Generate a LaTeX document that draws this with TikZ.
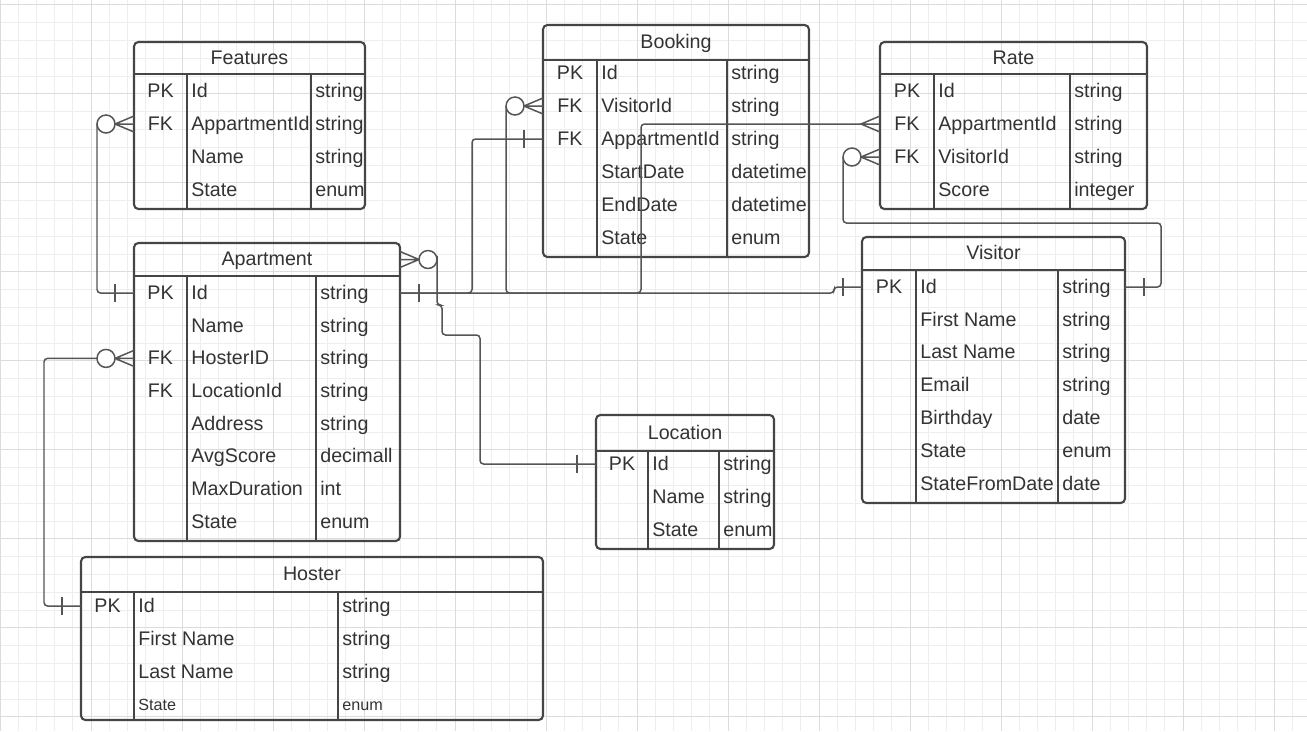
\documentclass[tikz,border=0pt]{standalone}
\usepackage{fontspec}
\setmainfont{Liberation Sans}
\definecolor{linegray}{HTML}{454545}
\definecolor{conngray}{HTML}{555555}
\definecolor{textgray}{HTML}{333333}
\definecolor{gridminor}{HTML}{EEEEEE}
\definecolor{gridmajor}{HTML}{DCDCDC}
\newcommand{\erfont}{\fontsize{11.2}{13}\selectfont}
\newcommand{\ersmall}{\fontsize{9.2}{11}\selectfont}
\tikzstyle{tablebox} = [draw=linegray, line width=1.2pt, rounded corners=2.5pt]
\tikzstyle{sepline} = [draw=linegray, line width=1.2pt]
\tikzstyle{entitytitle} = [inner sep=0pt, text height=0.716em, text depth=0pt]
\tikzstyle{keycell} = [inner sep=0pt, text height=0.716em, text depth=0pt]
\tikzstyle{fieldcell} = [keycell, anchor=west]
\tikzstyle{conn} = [draw=conngray, line width=0.85pt, rounded corners=2pt]
\tikzstyle{gridthin} = [draw=gridminor, line width=0.4pt]
\tikzstyle{gridthick} = [draw=gridmajor, line width=0.5pt]
\tikzset{
  pics/zeromany/.style={code={
    \draw[conn, sharp corners] (0,-8) -- (-19,0) -- (0,8) (0,0) -- (-19,0);
    \draw[conn, fill=white] (-28,0) circle[radius=0.18cm];
    \coordinate (-end) at (-37,0);
  }},
  pics/many/.style={code={
    \draw[conn, sharp corners] (0,-8) -- (-19,0) -- (0,8) (0,0) -- (-19,0);
    \coordinate (-end) at (-19,0);
  }},
  pics/one/.style={code={
    \draw[conn] (-19,-9) -- (-19,9);
  }}
}
% box, header line, column lines and title of one table
\newcommand{\erentity}[9]{%
  \draw[tablebox] (#2,#3) rectangle (#4,#5);
  \draw[sepline] (#2,#6) -- (#4,#6) (#7,#6) -- (#7,#5) (#8,#6) -- (#8,#5);
  \coordinate (#1-nw) at (#2,#3);
  \coordinate (#1-se) at (#4,#5);
  \node[entitytitle] (#1) at ({(#2+#4)/2},{(#3+#6)/2}) {#9};
}
% rows: key / field / type
\newcommand{\errows}[7]{%
  \foreach \k/\f/\t [count=\i] in {#7} {
    \node[keycell] (#1-k\i) at ({(#2+#3)/2},{#5+#6*(\i-1)}) {\k};
    \node[fieldcell] (#1-f\i) at ({#3+4},{#5+#6*(\i-1)}) {\f};
    \node[fieldcell] (#1-t\i) at ({#4+4},{#5+#6*(\i-1)}) {\t};
  }}
\begin{document}
\begin{tikzpicture}[x=0.02cm, y=-0.02cm, font=\erfont, text=textgray]
  \useasboundingbox (0,0) rectangle (1307,731);
  % grid
  \foreach \gx in {0,18.2,...,1307} \draw[gridthin] (\gx,0) -- (\gx,731);
  \foreach \gy in {4.8,22.6,...,731} \draw[gridthin] (0,\gy) -- (1307,\gy);
  \foreach \gx in {0,91,...,1307} \draw[gridthick] (\gx,0) -- (\gx,731);
  \foreach \gy in {4.8,93.8,...,731} \draw[gridthick] (0,\gy) -- (1307,\gy);

  % tables
  \erentity{feat}{134}{42}{365}{209}{74}{187}{311}{Features}
  \errows{feat}{134}{187}{311}{91}{33}{PK/Id/string, FK/AppartmentId/string, /Name/string, /State/enum}
  \erentity{book}{543}{25}{809}{257}{60}{597}{727}{Booking}
  \errows{book}{543}{597}{727}{73}{33}{PK/Id/string, FK/VisitorId/string, FK/AppartmentId/string, /StartDate/datetime, /EndDate/datetime, /State/enum}
  \erentity{rate}{880}{42}{1147}{209}{74}{934}{1070}{Rate}
  \errows{rate}{880}{934}{1070}{91}{33}{PK/Id/string, FK/AppartmentId/string, FK/VisitorId/string, /Score/integer}
  \erentity{apt}{134}{243}{400}{541}{276}{187}{316}{Apartment}
  \errows{apt}{134}{187}{316}{293}{32.7}{PK/Id/string, /Name/string, FK/HosterID/string, FK/LocationId/string, /Address/string, /AvgScore/decimall, /MaxDuration/int, /State/enum}
  \erentity{vis}{862}{237}{1125}{503}{270}{916}{1058}{Visitor}
  \errows{vis}{862}{916}{1058}{287}{32.8}{PK/Id/string, /First Name/string, /Last Name/string, /Email/string, /Birthday/date, /State/enum, /StateFromDate/date}
  \erentity{loc}{596}{415}{774}{549}{451}{648}{719}{Location}
  \errows{loc}{596}{648}{719}{464}{33}{PK/Id/string, /Name/string, /State/enum}
  \erentity{host}{81}{557}{543}{720}{592}{134}{338}{Hoster}
  \errows{host}{81}{134}{338}{606}{33}{PK/Id/string, /First Name/string, /Last Name/string}
  \node[fieldcell, font=\ersmall] (host-f4) at (138,704) {State};
  \node[fieldcell, font=\ersmall] (host-t4) at (342,704) {enum};

  % relation ends
  \pic (featc) at (feat-nw |- feat-k2) {zeromany};
  \pic at (apt-nw |- apt-k1) {one};
  \pic (aptc2) at (apt-nw |- apt-k3) {zeromany};
  \pic at (host-nw |- host-k1) {one};
  \pic[rotate=180] (aptc3) at (apt-se |- apt) {zeromany};
  \pic at (loc-nw |- loc-k1) {one};
  \pic at (book-nw |- book-k3) {one};
  \pic[rotate=180] at (apt-se |- apt-k1) {one};
  \pic (ratec1) at (rate-nw |- rate-k2) {many};
  \pic (bookc2) at (book-nw |- book-k2) {zeromany};
  \pic at (vis-nw |- vis-k1) {one};
  \pic (ratec2) at (rate-nw |- rate-k3) {zeromany};
  \pic[rotate=180] at (vis-se |- vis-k1) {one};

  % relations
  \draw[conn] (featc-end) |- (apt-nw |- apt-k1);
  \draw[conn] (aptc2-end) -- ++(-53,0) |- (host-nw |- host-k1);
  \draw[conn] (aptc3-end) -| (437,305) -| (442,335) -| (480,0 |- loc-k1) -- (loc-nw |- loc-k1);
  \draw[conn] (book-nw |- book-k3) -| (472,0 |- apt-k1) -- (apt-se |- apt-k1);
  \draw[conn] (ratec1-end) -| (641,0 |- apt-k1) -- (apt-se |- apt-k1);
  \draw[conn] (bookc2-end) |- (834,0 |- apt-k1) |- (vis-nw |- vis-k1);
  \draw[conn] (ratec2-end) |- (1161,223) |- (vis-se |- vis-k1);
\end{tikzpicture}
\end{document}
